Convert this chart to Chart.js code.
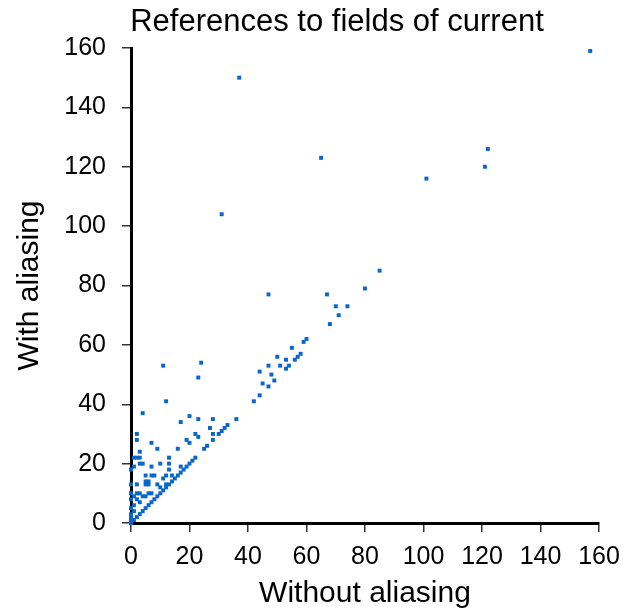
<!DOCTYPE html>
<html lang="en">
  <head>
    <meta charset="utf-8" />
    <title>References to fields of current</title>
    <style>
      * {
        margin: 0;
        padding: 0;
      }
      body {
        background: white;
      }
      .chartBox {
        width: 630px;
        height: 612px;
      }
    </style>
  </head>
  <body>
    <div class="chartBox">
      <canvas id="myChart"></canvas>
    </div>

    <script src="https://cdn.jsdelivr.net/npm/chart.js@4.4.1/dist/chart.umd.min.js"></script>

    <script>
      const chartTitle = "References to fields of current";
      const xTitle = "Without aliasing";
      const yTitle = "With aliasing";
      const tickValues = [0, 20, 40, 60, 80, 100, 120, 140, 160];

      // number of references to fields, per method
      const withoutAliasing = [
        0, 1, 2, 3, 4, 5, 6, 7, 8, 9, 10, 11, 12, 13, 14, 15, 16, 17, 18, 19, 20, 21, 22,
        25, 26, 28, 30, 31, 32, 33, 36,
        0, 0, 0, 0, 0, 0, 0, 0,
        1, 1, 1, 1, 1,
        2, 2, 2, 2, 2, 2,
        3, 3, 3, 3, 3,
        4, 4, 4,
        5, 5, 5, 5,
        6, 6, 6,
        7, 7, 7, 7,
        8, 9, 9, 10, 10, 11, 11, 12, 12, 12,
        13, 13, 13, 14, 16, 17, 17, 19, 20, 20,
        22, 23, 23, 23, 24, 27, 28, 28, 31, 37,
        42, 44, 44, 45, 47, 47, 47, 48, 49, 50,
        51, 53, 53, 54, 55, 56, 57, 58, 59, 60,
        65, 67, 68, 70, 71, 74, 80, 85, 101, 121, 122, 157,
      ];
      const withAliasing = [
        0, 1, 2, 3, 4, 5, 6, 7, 8, 9, 10, 11, 12, 13, 14, 15, 16, 17, 18, 19, 20, 21, 22,
        25, 26, 28, 30, 31, 32, 33, 35,
        1, 2, 3, 5, 8, 10, 13, 18,
        4, 6, 9, 19, 22,
        8, 10, 13, 22, 28, 30,
        7, 10, 20, 22, 24,
        9, 20, 37,
        9, 13, 14, 16,
        10, 13, 14,
        10, 16, 19, 27,
        16, 13, 25, 12, 20, 15, 53, 13, 16, 41,
        18, 20, 22, 16, 25, 19, 34, 28, 27, 36,
        30, 29, 35, 49, 54, 32, 30, 35, 104, 150,
        41, 43, 51, 47, 46, 53, 77, 50, 48, 56,
        53, 52, 55, 53, 59, 55, 56, 57, 61, 62,
        123, 77, 67, 73, 70, 73, 79, 85, 116, 120, 126, 159,
      ];

      const points = withoutAliasing.map((x, i) => ({ x: x, y: withAliasing[i] }));

      const fontFamily = "'Liberation Sans', Arial, sans-serif";

      const titleText = {
        id: "titleText",
        afterDraw(chart) {
          const { ctx } = chart;
          ctx.save();
          ctx.font = "31px " + fontFamily;
          ctx.fillStyle = "#000";
          ctx.textAlign = "center";
          ctx.textBaseline = "alphabetic";
          ctx.fillText(chartTitle, 337, 31);
          ctx.restore();
        },
      };

      const axisStyle = (title, size, tickPad, titlePad) => ({
        type: "linear",
        min: 0,
        max: 160,
        afterBuildTicks(scale) {
          scale.ticks = tickValues.map((v) => ({ value: v }));
        },
        grid: {
          display: true,
          drawOnChartArea: false,
          drawTicks: true,
          tickLength: 9,
          lineWidth: 1.5,
          color: "#333",
        },
        border: {
          display: true,
          color: "#000",
          width: 3,
        },
        ticks: {
          color: "#000",
          font: { family: fontFamily, size: 25 },
          padding: tickPad,
          maxRotation: 0,
        },
        title: {
          display: true,
          text: title,
          color: "#000",
          font: { family: fontFamily, size: 30 },
          padding: titlePad,
        },
        afterFit(scale) {
          if (scale.isHorizontal()) scale.height = size;
          else scale.width = size;
        },
      });

      const config = {
        type: "scatter",
        data: {
          datasets: [
            {
              label: "methods",
              data: points,
              backgroundColor: "#0b66cc",
              borderWidth: 0,
              pointStyle: "rect",
              pointRadius: 2.8,
              clip: false,
            },
          ],
        },
        options: {
          responsive: true,
          maintainAspectRatio: false,
          animation: false,
          layout: {
            padding: { top: 48, right: 31, left: 0, bottom: 0 },
          },
          scales: {
            x: axisStyle(xTitle, 89, 10, { top: 0, bottom: 0 }),
            y: axisStyle(yTitle, 131, 16, { top: 12, bottom: 0 }),
          },
          plugins: {
            legend: { display: false },
            tooltip: { enabled: false },
          },
        },
        plugins: [titleText],
      };

      const myChart = new Chart(document.getElementById("myChart"), config);
    </script>
  </body>
</html>
